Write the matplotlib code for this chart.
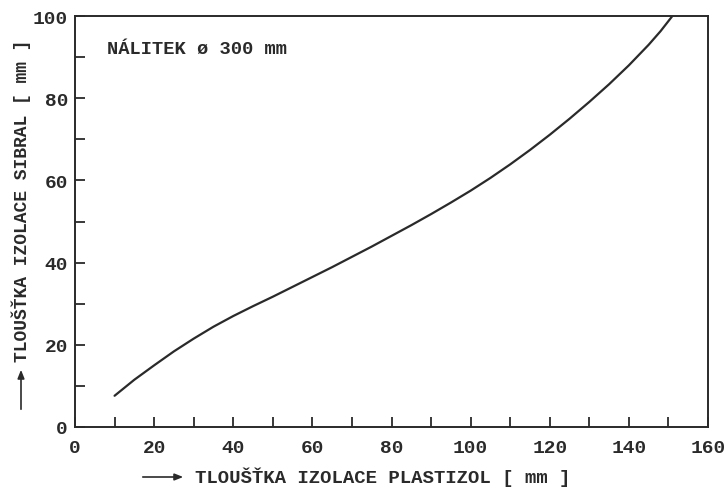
import matplotlib
matplotlib.use("Agg")
import matplotlib.pyplot as plt

# Data
plastizol = [10, 15, 20, 25, 30, 35, 40, 45, 50, 55, 60, 65, 70, 75, 80, 85, 90, 95,
             100, 105, 110, 115, 120, 125, 130, 135, 140, 145, 148, 151]
sibral = [7.6, 11.5, 15.0, 18.4, 21.5, 24.4, 27.0, 29.4, 31.7, 34.1, 36.5, 38.9, 41.4,
          43.9, 46.5, 49.1, 51.8, 54.6, 57.5, 60.6, 63.9, 67.4, 71.1, 75.0, 79.1, 83.4,
          88.0, 93.0, 96.3, 100.0]
x_ticks = [0, 20, 40, 60, 80, 100, 120, 140, 160]
y_ticks = [0, 20, 40, 60, 80, 100]
x_label = "TLOUŠŤKA IZOLACE PLASTIZOL [ mm ]"
y_label = "TLOUŠŤKA IZOLACE SIBRAL [ mm ]"
note = "NÁLITEK ø 300 mm"

FONT = ["Liberation Mono", "DejaVu Sans Mono", "DejaVu Sans"]
INK = "#2a2a2a"

fig = plt.figure(figsize=(7.28, 4.89), dpi=100)
ax = fig.add_axes([75/728, 1-428/489, (708-75)/728, (428-17)/489])

ax.plot(plastizol, sibral, color=INK, lw=1.6, solid_capstyle="round")

ax.set_xlim(0, 160)
ax.set_ylim(0, 100)
ax.set_xticks(x_ticks)
ax.set_yticks(y_ticks)
ax.set_xticks(range(10, 160, 20), minor=True)
ax.set_yticks(range(10, 100, 20), minor=True)
ax.tick_params(which="both", direction="in", color=INK, width=1.3, labelcolor=INK)
ax.tick_params(which="major", length=7)
ax.tick_params(which="minor", length=7)
ax.tick_params(axis="x", which="major", pad=9)
ax.tick_params(axis="y", which="major", pad=5)
for lab in ax.get_xticklabels() + ax.get_yticklabels():
    lab.set_family(FONT)
    lab.set_fontweight("bold")
    lab.set_fontsize(14)
for s in ax.spines.values():
    s.set_color(INK)
    s.set_linewidth(1.4)

ax.text(8, 92, note, family=FONT, fontweight="bold", fontsize=13.5, color=INK,
        va="center", ha="left")

# x axis label with arrow
fig.text(195/728, 1-477/489, x_label, family=FONT, fontweight="bold", fontsize=13.7,
         color=INK, va="center", ha="left")
fig.add_artist(matplotlib.patches.FancyArrowPatch(
    (140/728, 1-478/489), (186/728, 1-478/489), transform=fig.transFigure,
    arrowstyle="-|>,head_length=5,head_width=2", color=INK, lw=1.2))

# y axis label with arrow
fig.text(21/728, 1-362/489, y_label, family=FONT, fontweight="bold", fontsize=13,
         color=INK, va="bottom", ha="center", rotation=90)
fig.add_artist(matplotlib.patches.FancyArrowPatch(
    (21/728, 1-413/489), (21/728, 1-368/489), transform=fig.transFigure,
    arrowstyle="-|>,head_length=5,head_width=2", color=INK, lw=1.2))

fig.savefig("out.png", dpi=100)
